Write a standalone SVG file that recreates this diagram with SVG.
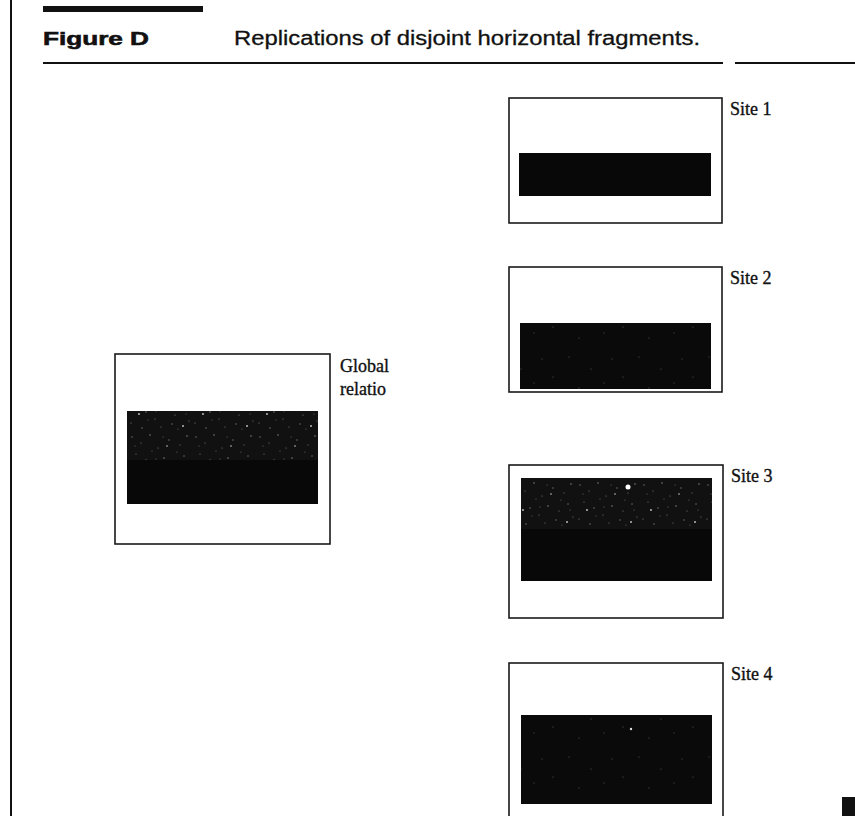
<svg xmlns="http://www.w3.org/2000/svg" width="855" height="816" viewBox="0 0 855 816">
<style>
.frame{fill:#fff;stroke:#1a1a1a;stroke-width:1.6}
.dark{fill:#080808}
.lbl{font-family:"Liberation Serif","Times New Roman",serif;font-size:18px;fill:#111;stroke:#111;stroke-width:0.35}
.rule{stroke:#111;stroke-width:2}
</style>
<defs>
<pattern id="speck" width="64" height="48" patternUnits="userSpaceOnUse">
<rect width="64" height="48" fill="#111"/>
<g fill="#7a7a7a">
<circle cx="4" cy="5" r="0.7"/><circle cx="13" cy="11" r="0.6"/><circle cx="22" cy="3" r="0.8"/>
<circle cx="30" cy="16" r="0.6"/><circle cx="41" cy="8" r="0.7"/><circle cx="52" cy="13" r="0.6"/>
<circle cx="59" cy="4" r="0.8"/><circle cx="8" cy="22" r="0.6"/><circle cx="18" cy="28" r="0.7"/>
<circle cx="27" cy="35" r="0.6"/><circle cx="36" cy="26" r="0.8"/><circle cx="47" cy="31" r="0.6"/>
<circle cx="56" cy="24" r="0.7"/><circle cx="3" cy="39" r="0.6"/><circle cx="14" cy="44" r="0.7"/>
<circle cx="33" cy="43" r="0.6"/><circle cx="44" cy="40" r="0.7"/><circle cx="61" cy="37" r="0.6"/>
<circle cx="24" cy="19" r="0.5"/><circle cx="49" cy="20" r="0.5"/>
<circle cx="7" cy="14" r="0.5"/><circle cx="35" cy="5" r="0.5"/><circle cx="20" cy="36" r="0.5"/>
<circle cx="58" cy="30" r="0.5"/><circle cx="28" cy="27" r="0.5"/><circle cx="50" cy="45" r="0.5"/>
</g>
<g fill="#c8c8c8">
<circle cx="11" cy="30" r="0.9"/><circle cx="39" cy="14" r="0.8"/><circle cx="55" cy="42" r="0.9"/>
</g>
</pattern>
<pattern id="speck2" width="70" height="50" patternUnits="userSpaceOnUse">
<rect width="70" height="50" fill="#0a0a0a"/>
<g fill="#555">
<circle cx="9" cy="7" r="0.6"/><circle cx="31" cy="19" r="0.6"/><circle cx="52" cy="9" r="0.6"/>
<circle cx="19" cy="38" r="0.6"/><circle cx="44" cy="33" r="0.6"/><circle cx="63" cy="27" r="0.6"/>
</g>
</pattern>
</defs>

<!-- page furniture -->
<line x1="11" y1="0" x2="11" y2="816" stroke="#111" stroke-width="2"/>
<rect x="43" y="6" width="160" height="6" fill="#111"/>
<text x="43" y="45" font-family="'Liberation Sans',Arial,sans-serif" font-size="19" font-weight="bold" stroke="#111" stroke-width="0.6" fill="#111" textLength="106" lengthAdjust="spacingAndGlyphs">Figure D</text>
<text x="234" y="45" font-family="'Liberation Sans',Arial,sans-serif" font-size="20" fill="#111" stroke="#111" stroke-width="0.3" textLength="466" lengthAdjust="spacingAndGlyphs">Replications of disjoint horizontal fragments.</text>
<line class="rule" x1="43" y1="63" x2="723" y2="63"/>
<line class="rule" x1="735" y1="63" x2="855" y2="63"/>

<g id="global">
<rect class="frame" x="115" y="354" width="215" height="190"/>
<rect x="127" y="411" width="191" height="50" fill="url(#speck)"/>
<rect class="dark" x="127" y="460" width="191" height="44"/>
<text class="lbl" x="340" y="372">Global</text>
<text class="lbl" x="340" y="395">relatio</text>
</g>

<g id="site1">
<rect class="frame" x="509" y="98" width="213" height="125"/>
<rect class="dark" x="519" y="153" width="192" height="43"/>
<text class="lbl" x="730" y="115">Site 1</text>
</g>

<g id="site2">
<rect class="frame" x="509" y="267" width="213" height="125"/>
<rect x="520" y="323" width="191" height="66" fill="url(#speck2)"/>
<text class="lbl" x="730" y="284">Site 2</text>
</g>

<g id="site3">
<rect class="frame" x="509" y="465" width="214" height="153"/>
<rect x="521" y="478" width="191" height="52" fill="url(#speck)"/>
<rect class="dark" x="521" y="529" width="191" height="52"/>
<circle cx="628" cy="487" r="2.5" fill="#fff"/>
<text class="lbl" x="731" y="482">Site 3</text>
</g>

<g id="site4">
<rect class="frame" x="509" y="663" width="214" height="170"/>
<rect x="521" y="715" width="191" height="89" fill="url(#speck2)"/>
<circle cx="631" cy="729" r="1.2" fill="#ddd"/>
<text class="lbl" x="731" y="680">Site 4</text>
</g>

<rect x="842" y="797" width="13" height="19" fill="#111"/>
<g id="connectors"></g>
</svg>
